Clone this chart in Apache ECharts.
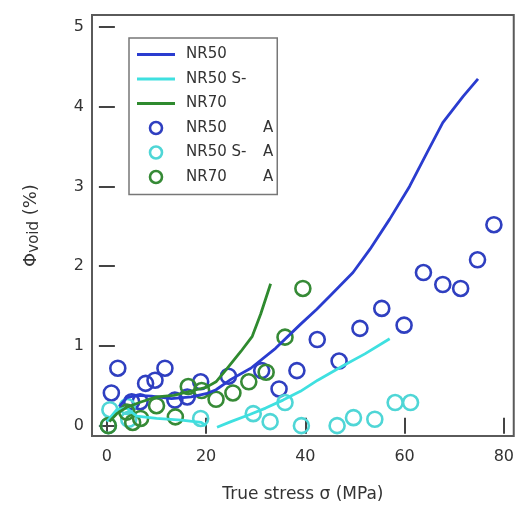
<!DOCTYPE html>
<html><head><meta charset="utf-8">
<script src="https://cdn.jsdelivr.net/npm/echarts@6/dist/echarts.min.js"></script>
<style>html,body{margin:0;padding:0;background:#fff}#c{width:517px;height:508px}</style>
</head><body><div id="c"></div>
<script>
// Tick labels
var xTicks = [0, 20, 40, 60, 80];
var yTicks = [0, 1, 2, 3, 4, 5];

// NR50 (line): [stress, void %]
var nr50Line = [[2.5,0.24],[4,0.35],[6,0.38],[9,0.37],[13,0.34],[17,0.36],[20,0.4],[22,0.45],[25,0.58],[29,0.72],[34,0.97],[39,1.27],[42.3,1.46],[45,1.63],[49.6,1.92],[53,2.21],[57,2.59],[61,3.0],[64.5,3.42],[67.7,3.8],[71.8,4.13],[74.8,4.35]];
// NR50 S- (line, two segments)
var nr50sLine = [[0,0.05],[2,0.2],[4,0.22],[6,0.12],[10,0.09],[15,0.07],[19,0.04],[20,0.0],null,[22.2,-0.02],[25,0.05],[28.8,0.14],[32,0.22],[35.5,0.32],[39,0.43],[42.5,0.57],[47.6,0.75],[52,0.9],[57,1.09]];
// NR70 (line)
var nr70Line = [[0.5,0.05],[2,0.15],[4,0.23],[7,0.3],[10,0.36],[13.5,0.38],[18,0.45],[20,0.48],[22,0.55],[24,0.7],[27,0.93],[29.3,1.12],[31,1.4],[33,1.78]];
// NR50 A (points)
var nr50Pts = [[0.9,0.41],[2.2,0.72],[5.0,0.30],[6.7,0.30],[7.8,0.53],[9.7,0.57],[11.7,0.72],[13.7,0.32],[16.2,0.36],[18.9,0.55],[24.5,0.62],[31.2,0.69],[34.7,0.46],[38.3,0.69],[42.4,1.08],[46.8,0.81],[51,1.22],[55.4,1.47],[59.9,1.26],[63.8,1.92],[67.7,1.77],[71.3,1.72],[74.7,2.08],[78,2.52]];
// NR50 S- A (points)
var nr50sPts = [[0.3,0.0],[0.6,0.2],[4.1,0.24],[4.4,0.08],[18.9,0.09],[29.5,0.15],[32.9,0.05],[35.9,0.29],[39.2,0.0],[46.4,0.0],[49.7,0.1],[54,0.08],[58.1,0.29],[61.2,0.29]];
// NR70 A (points)
var nr70Pts = [[0.3,0.0],[4,0.17],[5.2,0.04],[6.8,0.09],[10,0.25],[13.8,0.11],[16.4,0.49],[19.1,0.44],[22,0.33],[25.4,0.41],[28.6,0.55],[32.1,0.67],[35.9,1.11],[39.5,1.72]];

var font = 'DejaVu Sans';
var chart = echarts.init(document.getElementById('c'), null, {renderer:'canvas'});
function axisCommon(vals, showLabel) {
  return {
    axisLine: {show: false},
    axisTick: {show: true, inside: true, length: 8, customValues: vals, lineStyle: {color: '#444', width: 2}},
    axisLabel: {show: showLabel, customValues: vals, color: '#333', fontFamily: font, fontSize: 16},
    splitLine: {show: false}
  };
}
var xMain = Object.assign({type:'value', min:-3, max:82, position:'bottom',
  name:'True stress σ (MPa)', nameLocation:'middle', nameGap:50,
  nameTextStyle:{fontFamily:font, fontSize:17, color:'#333'}}, axisCommon(xTicks, true));
xMain.axisLabel.margin = 13;
var xTop = Object.assign({type:'value', min:-3, max:82, position:'top'}, axisCommon(xTicks, false));
var yMain = Object.assign({type:'value', min:-0.13, max:5.15, position:'left',
  name:'{p|Φ}{s|void}{p| (%)}', nameLocation:'middle', nameGap:50,
  nameTextStyle:{fontFamily:font, color:'#333', rich:{p:{fontFamily:font,fontSize:18,color:'#333'}, s:{fontFamily:font,fontSize:15,color:'#333',padding:[6,0,0,0]}}}}, axisCommon(yTicks, true));
yMain.axisLabel.margin = 8;
var yRight = Object.assign({type:'value', min:-0.13, max:5.15, position:'right'}, axisCommon(yTicks, false));

var cBlueL='#2a3ccf', cCyanL='#3fe0e0', cGreenL='#2f8a2f';
var cBlueP='#2f3fc0', cCyanP='#4fd6d6', cGreenP='#368a36';
function pts(name, data, col){
  return {name:name, type:'scatter', xAxisIndex:0, yAxisIndex:0, data:data, symbol:'circle', symbolSize:15,
    itemStyle:{color:'rgba(0,0,0,0)', borderColor:col, borderWidth:2.6, opacity:1}, z:2};
}
function ln(name, data, col){
  return {name:name, type:'line', xAxisIndex:0, yAxisIndex:0, data:data, showSymbol:false, symbol:'none', connectNulls:false,
    lineStyle:{color:col, width:2.8}, itemStyle:{color:col}, z:3};
}
var lineIcon = 'path://M0,0 L40,0 L40,3 L0,3 Z';
function legCircle(name, col){
  return {name:name, icon:'circle', itemStyle:{color:'rgba(0,0,0,0)', borderColor:col, borderWidth:2.6, opacity:1}};
}
chart.setOption({
  animation:false,
  backgroundColor:'#fff',
  grid:{left:92, right:3, top:15, bottom:71, show:true, borderColor:'#5a5a5a', borderWidth:2, backgroundColor:'transparent'},
  xAxis:[xMain, xTop],
  yAxis:[yMain, yRight],
  legend:{
    left:129, top:38, orient:'vertical',
    padding:[9,4,10,8], itemGap:9.5, itemWidth:38, itemHeight:12,
    backgroundColor:'#fff', borderColor:'#777', borderWidth:1.5, borderRadius:0,
    data:[
      {name:'NR50', icon:lineIcon, itemStyle:{color:cBlueL}},
      {name:'NR50 S-', icon:lineIcon, itemStyle:{color:cCyanL}},
      {name:'NR70', icon:lineIcon, itemStyle:{color:cGreenL}},
      legCircle('NR50 A', cBlueP),
      legCircle('NR50 S- A', cCyanP),
      legCircle('NR70 A', cGreenP)
    ],
    formatter:function(n){
      if (/ A$/.test(n)) return '{n|'+n.slice(0,-2)+'}{a|A}';
      return '{n|'+n+'}';
    },
    textStyle:{fontFamily:font, fontSize:15, color:'#333',
      rich:{n:{fontFamily:font, fontSize:15, color:'#333', width:77, padding:[0,0,0,6]}, a:{fontFamily:font, fontSize:15, color:'#333'}}}
  },
  series:[
    pts('NR50 A', nr50Pts, cBlueP),
    pts('NR50 S- A', nr50sPts, cCyanP),
    pts('NR70 A', nr70Pts, cGreenP),
    ln('NR50', nr50Line, cBlueL),
    ln('NR50 S-', nr50sLine, cCyanL),
    ln('NR70', nr70Line, cGreenL)
  ]
});
</script></body></html>
